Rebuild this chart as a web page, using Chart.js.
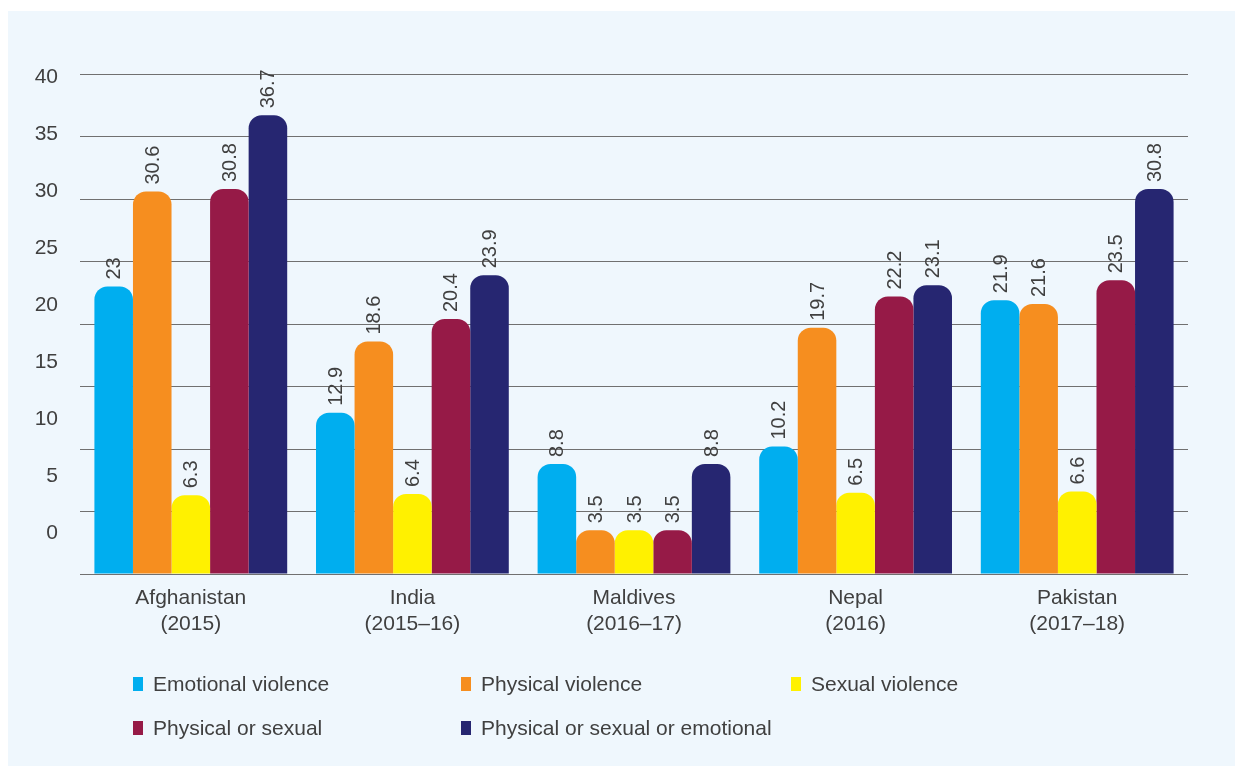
<!DOCTYPE html>
<html>
<head>
<meta charset="utf-8">
<script src="https://cdn.jsdelivr.net/npm/chart.js@4.4.1/dist/chart.umd.min.js"></script>
<style>
  html, body { margin: 0; padding: 0; background: #ffffff; }
  #panel { position: absolute; left: 8px; top: 11px; width: 1227px; height: 755px; background: #eff7fd; }
  #myChart { position: absolute; left: 0; top: 0; }
</style>
</head>
<body>
<div id="panel"></div>
<canvas id="myChart" width="1235" height="766"></canvas>
<script>
// categories and series (percent)
const categories = [
    ['Afghanistan', '(2015)'],
    ['India', '(2015–16)'],
    ['Maldives', '(2016–17)'],
    ['Nepal', '(2016)'],
    ['Pakistan', '(2017–18)']
];
const emotionalViolence = [23, 12.9, 8.8, 10.2, 21.9];
const physicalViolence = [30.6, 18.6, 3.5, 19.7, 21.6];
const sexualViolence = [6.3, 6.4, 3.5, 6.5, 6.6];
const physicalOrSexual = [30.8, 20.4, 3.5, 22.2, 23.5];
const physicalSexualEmotional = [36.7, 23.9, 8.8, 23.1, 30.8];
const yTickValues = [0, 5, 10, 15, 20, 25, 30, 35, 40];

const textColor = '#404040';
const fontFamily = '"Liberation Sans", Arial, sans-serif';

Chart.defaults.font.family = fontFamily;
Chart.defaults.color = textColor;

// rotated value labels above each bar
const valueLabels = {
    id: 'valueLabels',
    afterDatasetsDraw(chart) {
        const ctx = chart.ctx;
        chart.data.datasets.forEach((ds, i) => {
            chart.getDatasetMeta(i).data.forEach((bar, j) => {
                ctx.save();
                ctx.translate(bar.x, bar.y - 7);
                ctx.rotate(-Math.PI / 2);
                ctx.font = '20px ' + fontFamily;
                ctx.fillStyle = textColor;
                ctx.textAlign = 'left';
                ctx.textBaseline = 'middle';
                ctx.fillText(String(ds.data[j]), 0, 1);
                ctx.restore();
            });
        });
    }
};

// legend in a 3-column grid under the chart
const gridLegend = {
    id: 'gridLegend',
    afterDraw(chart) {
        const ctx = chart.ctx;
        const colX = [133, 461, 791];
        const rowY = [684, 728];
        chart.data.datasets.forEach((ds, i) => {
            const x = colX[i % 3];
            const y = rowY[Math.floor(i / 3)];
            ctx.save();
            ctx.fillStyle = ds.backgroundColor;
            ctx.fillRect(x, y - 7, 10, 14);
            ctx.font = '21px ' + fontFamily;
            ctx.fillStyle = textColor;
            ctx.textAlign = 'left';
            ctx.textBaseline = 'middle';
            ctx.fillText(ds.label, x + 20, y + 1);
            ctx.restore();
        });
    }
};

const barStyle = {
    xAxisID: 'x',
    yAxisID: 'y',
    borderRadius: 13,
    borderSkipped: 'start',
    categoryPercentage: 0.87,
    barPercentage: 1.0
};

const chart = new Chart(document.getElementById('myChart').getContext('2d'), {
    type: 'bar',
    data: {
        labels: categories,
        datasets: [
            { label: 'Emotional violence', data: emotionalViolence, backgroundColor: '#00aeef', ...barStyle },
            { label: 'Physical violence', data: physicalViolence, backgroundColor: '#f68e1f', ...barStyle },
            { label: 'Sexual violence', data: sexualViolence, backgroundColor: '#fff100', ...barStyle },
            { label: 'Physical or sexual', data: physicalOrSexual, backgroundColor: '#961a47', ...barStyle },
            { label: 'Physical or sexual or emotional', data: physicalSexualEmotional, backgroundColor: '#262671', ...barStyle }
        ]
    },
    options: {
        responsive: false,
        animation: false,
        layout: { padding: { top: 74, right: 47, left: 0, bottom: 0 } },
        plugins: {
            legend: { display: false },
            tooltip: { enabled: false }
        },
        scales: {
            x: {
                grid: { display: false, drawTicks: false },
                border: { display: false },
                ticks: {
                    autoSkip: false,
                    maxRotation: 0,
                    padding: 11,
                    font: { size: 21, lineHeight: 1.25 },
                    color: textColor
                },
                afterFit(scale) { scale.height = 192; }
            },
            y: {
                position: 'left',
                weight: 0,
                min: 0,
                max: 40,
                ticks: { display: false, stepSize: 5 },
                grid: { color: '#707070', lineWidth: 1, drawTicks: false },
                border: { display: false },
                afterFit(scale) { scale.width = 0; }
            },
            yLabels: {
                position: 'left',
                weight: 1,
                min: -3.6,
                max: 40.26,
                grid: { display: false, drawTicks: false },
                border: { display: false },
                ticks: { padding: 22, font: { size: 21 }, color: textColor },
                afterBuildTicks(scale) { scale.ticks = yTickValues.map(v => ({ value: v })); },
                afterFit(scale) { scale.width = 80; }
            }
        }
    },
    plugins: [valueLabels, gridLegend]
});
</script>
</body>
</html>
